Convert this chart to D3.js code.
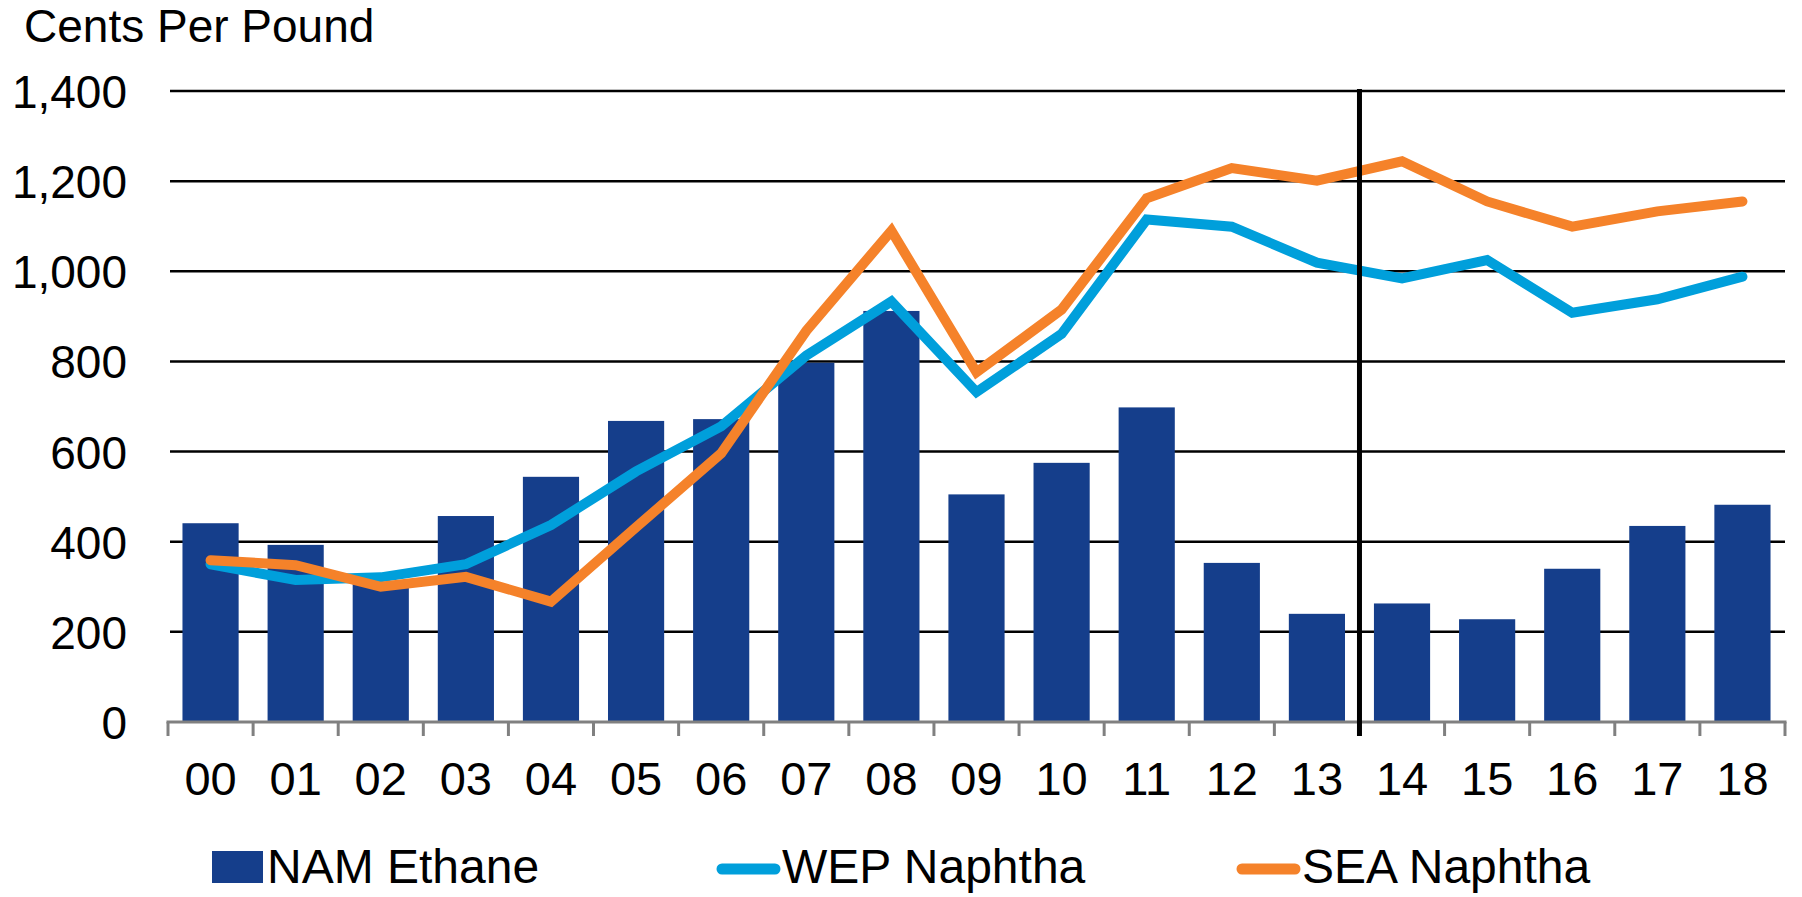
<!DOCTYPE html>
<html>
<head>
<meta charset="utf-8">
<script src="https://cdn.jsdelivr.net/npm/d3@7"></script>
<style>
  body { margin: 0; background: #fff; }
  text { font-family: "Liberation Sans", Arial, sans-serif; fill: #000; }
</style>
</head>
<body>
<div id="chart"></div>
<script>
// years on the x axis
const years = ["00","01","02","03","04","05","06","07","08","09","10","11","12","13","14","15","16","17","18"];
// NAM Ethane bars
const namEthane = [441, 393, 310, 457, 544, 668, 672, 797, 912, 505, 575, 698, 353, 240, 263, 228, 340, 435, 482];
// WEP Naphtha line
const wepNaphtha = [350, 315, 321, 350, 437, 556, 656, 813, 933, 732, 861, 1115, 1099, 1019, 984, 1025, 908, 938, 988];
// SEA Naphtha line
const seaNaphtha = [359, 348, 300, 322, 267, 432, 596, 868, 1090, 776, 915, 1162, 1229, 1201, 1244, 1155, 1099, 1133, 1155];
const yTicks = [0, 200, 400, 600, 800, 1000, 1200, 1400];
const dividerYear = "14"; // vertical marker sits before this year

const svgWidth = 1802, svgHeight = 897;
const plotLeft = 168, plotRight = 1785, plotTop = 91, plotBottom = 722;

let svg = d3.select("#chart").append("svg")
    .attr("width", svgWidth)
    .attr("height", svgHeight);

let x = d3.scaleBand()
    .domain(years)
    .range([plotLeft, plotRight])
    .paddingInner(0.34)
    .paddingOuter(0.17);

let y = d3.scaleLinear()
    .domain([0, 1400])
    .range([plotBottom, plotTop]);

// gridlines (behind the bars)
svg.append("g")
    .selectAll("line")
    .data(yTicks.filter(d => d > 0))
    .enter()
    .append("line")
    .attr("x1", plotLeft + 2)
    .attr("x2", plotRight)
    .attr("y1", d => y(d))
    .attr("y2", d => y(d))
    .style("stroke", "#000")
    .style("stroke-width", 2.5);

// y labels
let yAxis = svg.append("g")
    .attr("transform", `translate(${plotLeft - 41},0)`)
    .call(d3.axisLeft(y).tickValues(yTicks).tickFormat(d3.format(",")).tickSize(0).tickPadding(0));
yAxis.select(".domain").remove();
yAxis.selectAll("text")
    .style("font-family", "'Liberation Sans', Arial, sans-serif")
    .style("font-size", "46px")
    .attr("dy", "0.36em");

// title
svg.append("text")
    .attr("x", 24)
    .attr("y", 42)
    .style("font-size", "46px")
    .text("Cents Per Pound");

// bars
svg.append("g")
    .selectAll("rect")
    .data(years)
    .enter()
    .append("rect")
    .attr("x", d => x(d))
    .attr("width", x.bandwidth())
    .attr("y", (d, i) => y(namEthane[i]))
    .attr("height", (d, i) => y(0) - y(namEthane[i]))
    .style("fill", "#153e8b");

// x axis: grey baseline with ticks at the category edges
let edges = years.map(d => x(d) - x.step() * x.paddingInner() / 2).concat([plotRight]);
edges[0] = plotLeft;
svg.append("line")
    .attr("x1", plotLeft - 1.5)
    .attr("x2", plotRight + 1.5)
    .attr("y1", plotBottom)
    .attr("y2", plotBottom)
    .style("stroke", "#808080")
    .style("stroke-width", 3);
svg.append("g")
    .selectAll("line")
    .data(edges)
    .enter()
    .append("line")
    .attr("x1", d => d)
    .attr("x2", d => d)
    .attr("y1", plotBottom)
    .attr("y2", plotBottom + 14)
    .style("stroke", "#808080")
    .style("stroke-width", 3);

let xAxis = svg.append("g")
    .attr("transform", `translate(0,${plotBottom})`)
    .call(d3.axisBottom(x).tickSize(0).tickPadding(0));
xAxis.select(".domain").remove();
xAxis.selectAll("text")
    .style("font-family", "'Liberation Sans', Arial, sans-serif")
    .style("font-size", "47px")
    .attr("y", 73)
    .attr("dy", 0);

// lines
let line = d3.line()
    .x((d, i) => x(years[i]) + x.bandwidth() / 2)
    .y(d => y(d));

svg.append("path")
    .datum(wepNaphtha)
    .attr("d", line)
    .style("fill", "none")
    .style("stroke", "#009fdb")
    .style("stroke-width", 10)
    .style("stroke-linecap", "round")
    .style("stroke-linejoin", "miter");

svg.append("path")
    .datum(seaNaphtha)
    .attr("d", line)
    .style("fill", "none")
    .style("stroke", "#f5822a")
    .style("stroke-width", 10)
    .style("stroke-linecap", "round")
    .style("stroke-linejoin", "miter");

// vertical divider between 13 and 14
let divX = x(dividerYear) - x.step() * x.paddingInner() / 2;
svg.append("line")
    .attr("x1", divX)
    .attr("x2", divX)
    .attr("y1", plotTop - 2)
    .attr("y2", plotBottom + 14)
    .style("stroke", "#000")
    .style("stroke-width", 5);

// legend
let legend = svg.append("g");
legend.append("rect")
    .attr("x", 212)
    .attr("y", 851)
    .attr("width", 51)
    .attr("height", 32)
    .style("fill", "#153e8b");
legend.append("text")
    .attr("x", 267)
    .attr("y", 883)
    .style("font-size", "48px")
    .text("NAM Ethane");

let legendLines = [
    { name: "WEP Naphtha", color: "#009fdb", x: 717 },
    { name: "SEA Naphtha", color: "#f5822a", x: 1237 }
];
legendLines.forEach(l => {
    legend.append("line")
        .attr("x1", l.x + 5)
        .attr("x2", l.x + 58)
        .attr("y1", 869)
        .attr("y2", 869)
        .style("stroke", l.color)
        .style("stroke-width", 11)
        .style("stroke-linecap", "round");
    legend.append("text")
        .attr("x", l.x + 65)
        .attr("y", 883)
        .style("font-size", "48px")
        .text(l.name);
});
</script>
</body>
</html>
